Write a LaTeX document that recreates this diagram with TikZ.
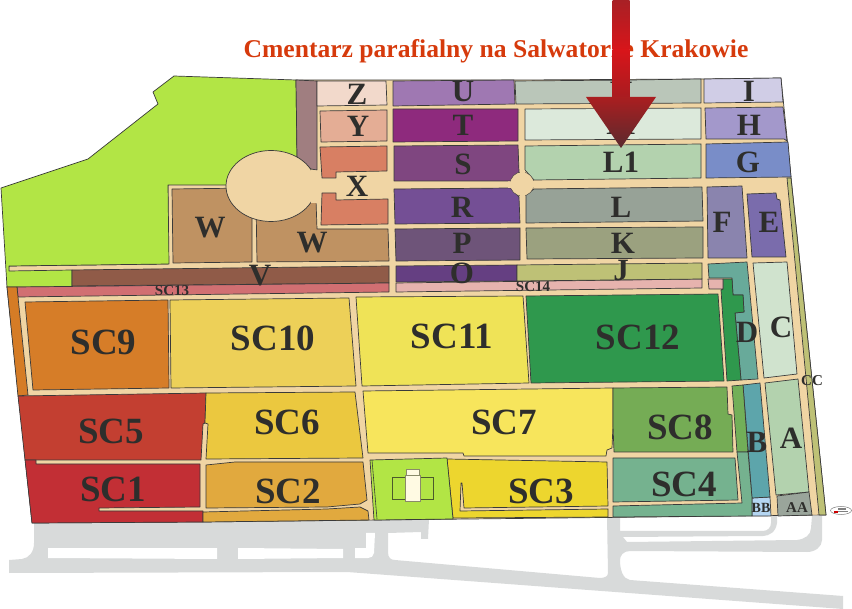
\documentclass[tikz,border=0pt]{standalone}
\usepackage{fontspec}
\setmainfont{Liberation Serif}
\usetikzlibrary{shapes.geometric}
\definecolor{ink}{HTML}{2E2E2C}
\definecolor{edge}{HTML}{3A3A3A}
\definecolor{road}{HTML}{F0D5A4}
\definecolor{asphalt}{HTML}{D8DADA}
\definecolor{grass}{HTML}{B2E545}
\tikzset{
 zone/.style={draw=edge,line width=.7pt,line join=round},
 lblbig/.style={font=\bfseries\fontsize{31}{31}\selectfont,text=ink,inner sep=0pt},
 lblsc/.style={font=\bfseries\fontsize{37}{37}\selectfont,text=ink,inner sep=0pt},
 lblsm/.style={font=\bfseries\fontsize{15}{15}\selectfont,text=ink,inner sep=0pt},
}
\begin{document}
\begin{tikzpicture}[x=1pt,y=-1pt]
\useasboundingbox (0,0) rectangle (852,609);
% grey roads
\fill[asphalt] (34,522) -- (429,519) -- (428,539) -- (421,539) -- (421,532) -- (388,533) -- (388,552)
  .. controls (388,558) and (391,560) .. (395,560) -- (600,578)
  .. controls (605,578) and (608,576) .. (608,573) -- (607,516) -- (620,516) -- (620,531) -- (763,531)
  .. controls (768,531) and (771,527) .. (771,523) -- (771,516) -- (777,516) -- (777,523)
  .. controls (776,532) and (769,536) .. (763,536) -- (623,537) -- (627,542) -- (797,540)
  .. controls (805,539) and (811,535) .. (811,528) -- (812,516) -- (822,516) -- (822,540)
  .. controls (822,547) and (815,552) .. (807,552) -- (630,551)
  .. controls (623,551) and (620,556) .. (620,560) .. controls (620,570) and (623,579) .. (630,580)
  -- (843,596) -- (843,609) -- (347,572) -- (9,573) -- (9,560) -- (22,559)
  .. controls (29,558) and (34,552) .. (34,543) -- cycle;
\fill[white] (48,548) -- (217,548) -- (217,559) -- (48,558) -- cycle;
\fill[white] (238,548) -- (343,549) -- (343,558) -- (238,559) -- cycle;
\fill[white] (366,533) -- (375,533) -- (374,553) .. controls (374,556) and (371,558) .. (368,558) -- (355,558) -- (355,548) -- (366,548) -- cycle;
% site base
\draw[zone,fill=road] (296,80) -- (517,80) -- (701,79) -- (781,78) -- (791,177) -- (826,515) -- (203,522) -- (32,523) -- (7,287) -- (9,266) -- (168,264) -- (168,185) -- (296,157) -- cycle;
% green
\draw[zone,fill=grass] (174,76) -- (153,92) -- (158,104) -- (88,159) -- (1,188) -- (7,287) -- (72,287) -- (72,270) -- (9,271) -- (9,266) -- (169,264) -- (168,185) -- (262,185) -- (297,160) -- (296,80) -- cycle;
% upper left column
\draw[zone,fill={rgb,255:red,160;green,126;blue,128}] (296,80) -- (317,81) -- (317,170) -- (311,169) -- (297,157) -- cycle;
\draw[zone,fill={rgb,255:red,242;green,217;blue,203}] (317,81) -- (386,81) -- (387,105) -- (317,106) -- cycle;
\draw[zone,fill={rgb,255:red,228;green,173;blue,149}] (320,111) -- (387,110) -- (387,141) -- (321,142) -- cycle;
\draw[zone,fill={rgb,255:red,216;green,127;blue,99}] (320,147) -- (387,146) -- (387,171) -- (336,172) -- (336,178) -- (322,178) -- cycle;
\draw[zone,fill={rgb,255:red,216;green,127;blue,99}] (322,193) -- (336,193) -- (336,200) -- (388,199) -- (388,224) -- (321,225) -- cycle;
\draw[zone,fill={rgb,255:red,191;green,146;blue,98}] (172,189) -- (252,188) -- (252,262) -- (173,263) -- cycle;
\draw[zone,fill={rgb,255:red,191;green,146;blue,98}] (256,200) -- (316,200) -- (317,229) -- (388,229) -- (389,261) -- (257,262) -- cycle;
\draw[zone,fill=road] (271,186) ellipse [x radius=45,y radius=35.5];
\fill[road] (311,170) -- (320,171) -- (320,203) -- (311,203) -- cycle;
\draw[zone,fill={rgb,255:red,144;green,91;blue,72}] (72,270) -- (389,266) -- (389,283) -- (72,286) -- cycle;
\draw[zone,fill={rgb,255:red,209;green,111;blue,114}] (17,287) -- (389,283) -- (389,292) -- (18,297) -- cycle;
\draw[zone,fill={rgb,255:red,213;green,124;blue,38}] (7,287) -- (17,287) -- (18,297) -- (28,395) -- (18,396) -- cycle;
% purple column
\draw[zone,fill={rgb,255:red,159;green,120;blue,178}] (393,81) -- (514,80) -- (515,104) -- (393,106) -- cycle;
\draw[zone,fill={rgb,255:red,142;green,42;blue,125}] (393,109) -- (518,109) -- (518,141) -- (393,142) -- cycle;
\draw[zone,fill={rgb,255:red,127;green,70;blue,128}] (394,146) -- (518,145) -- (519,172) -- (511,181) -- (394,181) -- cycle;
\draw[zone,fill={rgb,255:red,116;green,79;blue,149}] (394,189) -- (511,188) -- (519,197) -- (520,223) -- (395,224) -- cycle;
\draw[zone,fill={rgb,255:red,110;green,84;blue,121}] (395,229) -- (520,228) -- (520,260) -- (396,261) -- cycle;
\draw[zone,fill={rgb,255:red,101;green,63;blue,130}] (396,266) -- (517,265) -- (517,281) -- (396,282) -- cycle;
\draw[zone,fill={rgb,255:red,230;green,179;blue,174}] (396,283) -- (702,279) -- (702,288) -- (396,292) -- cycle;
% middle column
\draw[zone,fill={rgb,255:red,186;green,198;blue,185}] (515,81) -- (630,80) -- (701,79) -- (701,103) -- (516,104) -- cycle;
\draw[zone,fill={rgb,255:red,220;green,233;blue,219}] (525,109) -- (701,108) -- (701,139) -- (525,140) -- cycle;
\draw[zone,fill={rgb,255:red,179;green,210;blue,174}] (525,146) -- (701,144) -- (701,178) -- (534,180) -- (525,170) -- cycle;
\draw[zone,fill={rgb,255:red,151;green,162;blue,151}] (526,195) -- (534,189) -- (702,187) -- (703,221) -- (526,223) -- cycle;
\draw[zone,fill={rgb,255:red,155;green,161;blue,127}] (526,228) -- (703,227) -- (703,258) -- (527,259) -- cycle;
\draw[zone,fill={rgb,255:red,190;green,193;blue,118}] (517,265) -- (702,263) -- (702,279) -- (517,281) -- cycle;
\fill[road] (522,184) circle [radius=12];
\draw[edge,line width=.4pt] (522,184) circle [radius=12];
\fill[road] (508,181.5) -- (536,181) -- (536,187.5) -- (508,188) -- cycle;
\fill[road] (519.5,170) -- (525,170) -- (525,198) -- (519.5,198) -- cycle;
% right column
\draw[zone,fill={rgb,255:red,208;green,205;blue,230}] (704,79) -- (781,78) -- (783,102) -- (704,103) -- cycle;
\draw[zone,fill={rgb,255:red,163;green,152;blue,203}] (705,108) -- (783,107) -- (787,141) -- (784,139) -- (706,139) -- cycle;
\draw[zone,fill={rgb,255:red,121;green,141;blue,200}] (706,144) -- (788,142) -- (791,177) -- (706,178) -- cycle;
\draw[zone,fill={rgb,255:red,138;green,132;blue,174}] (707,187) -- (742,186) -- (747,258) -- (708,258) -- cycle;
\draw[zone,fill={rgb,255:red,122;green,108;blue,172}] (747,194) -- (776,193) -- (777,199) -- (780,200) -- (786,257) -- (752,257) -- cycle;
\draw[zone,fill={rgb,255:red,190;green,193;blue,118}] (787,178) -- (791,178) -- (826,515) -- (819,515) -- cycle;
\draw[zone,fill={rgb,255:red,104;green,170;blue,154}] (708,264) -- (747,262) -- (758,379) -- (741,380) -- (735,313) -- (744,312) -- (743,295) -- (733,295) -- (732,278) -- (709,278) -- cycle;
\draw[zone,fill={rgb,255:red,47;green,152;blue,77}] (723,279) -- (732,279) -- (733,295) -- (743,295) -- (744,312) -- (735,313) -- (741,380) -- (727,381) -- (721,290) -- (723,289) -- cycle;
\draw[zone,fill={rgb,255:red,230;green,179;blue,174}] (708,279) -- (723,279) -- (723,289) -- (709,289) -- cycle;
\draw[zone,fill={rgb,255:red,208;green,227;blue,206}] (753,263) -- (787,262) -- (797,374) -- (764,378) -- cycle;
\draw[zone,fill={rgb,255:red,179;green,210;blue,174}] (765,383) -- (798,379) -- (809,492) -- (776,495) -- cycle;
\draw[zone,fill={rgb,255:red,154;green,165;blue,155}] (777,496) -- (809,492) -- (812,515) -- (778,516) -- cycle;
\draw[zone,fill={rgb,255:red,181;green,214;blue,242}] (752,498) -- (770,497) -- (771,516) -- (752,516) -- cycle;
\draw[zone,fill={rgb,255:red,93;green,165;blue,171}] (743,385) -- (760,383) -- (770,497) -- (752,498) -- cycle;
\draw[zone,fill={rgb,255:red,114;green,175;blue,88}] (732,386) -- (743,385) -- (748,452) -- (737,452) -- cycle;
\draw[zone,fill={rgb,255:red,117;green,178;blue,143}] (613,506) -- (742,503) -- (737,452) -- (748,452) -- (752,498) -- (752,516) -- (613,517) -- cycle;
% SC zones
\draw[zone,fill={rgb,255:red,214;green,125;blue,40}] (25,302) -- (168,300) -- (169,388) -- (33,390) -- cycle;
\draw[zone,fill={rgb,255:red,237;green,208;blue,88}] (170,300) -- (349,298) -- (356,386) -- (171,388) -- cycle;
\draw[zone,fill={rgb,255:red,239;green,227;blue,87}] (356,297) -- (523,296) -- (529,383) -- (362,386) -- cycle;
\draw[zone,fill={rgb,255:red,47;green,152;blue,77}] (526,296) -- (718,294) -- (724,381) -- (531,383) -- cycle;
\draw[zone,fill={rgb,255:red,195;green,63;blue,49}] (18,396) -- (206,393) -- (205,423) -- (203,424) -- (201,460) -- (25,460) -- cycle;
\draw[zone,fill={rgb,255:red,194;green,47;blue,53}] (25,460) -- (36,460) -- (36,464) -- (200,464) -- (200,507) -- (99,508) -- (99,511) -- (203,511) -- (203,522) -- (32,523) -- cycle;
\draw[zone,fill={rgb,255:red,235;green,200;blue,63}] (206,393) -- (355,392) -- (363,458) -- (206,459) -- (208,424) -- (205,423) -- cycle;
\draw[zone,fill={rgb,255:red,225;green,169;blue,62}] (206,465) -- (235,462) -- (363,462) -- (367,500) -- (360,504) -- (327,507) -- (206,508) -- cycle;
\draw[zone,fill={rgb,255:red,225;green,169;blue,62}] (203,512) -- (327,509) -- (360,507) -- (368,511) -- (369,520) -- (203,522) -- cycle;
\draw[zone,fill={rgb,255:red,247;green,229;blue,92}] (363,391) -- (613,388) -- (613,425) -- (612,448) -- (607,450) -- (606,456) -- (464,456) -- (463,453) -- (368,453) -- cycle;
\draw[zone,fill={rgb,255:red,117;green,172;blue,85}] (613,388) -- (727,387) -- (728,414) -- (732,415) -- (733,452) -- (614,452) -- (613,425) -- cycle;
\draw[zone,fill={rgb,255:red,117;green,178;blue,143}] (613,458) -- (735,458) -- (738,500) -- (613,502) -- cycle;
\draw[zone,fill={rgb,255:red,237;green,214;blue,46}] (447,459) -- (607,462) -- (608,506) -- (464,508) -- (462,483) -- (461,483) -- (460,511) -- (608,509) -- (608,517) -- (453,518) -- cycle;
% church plot
\draw[zone,fill=grass] (370,460) -- (447,458) -- (453,519) -- (374,520) -- cycle;
\draw[edge,line width=.6pt] (372,460) -- (377,519);
\draw[line width=.7pt,draw={rgb,255:red,75;green,90;blue,44}] (392,477) rectangle (405,499);
\draw[line width=.7pt,draw={rgb,255:red,75;green,90;blue,44}] (420,477) rectangle (433,499);
\draw[line width=.8pt,draw={rgb,255:red,138;green,138;blue,106},fill={rgb,255:red,255;green,250;blue,227}] (405,475) rectangle (420,501);
\draw[line width=.8pt,draw={rgb,255:red,138;green,138;blue,106},fill={rgb,255:red,255;green,250;blue,227}] (406,469) rectangle (419,475);
% logo
\draw[line width=.5pt,draw=gray,fill=white] (841,510.5) ellipse [x radius=10.5,y radius=4];
\fill[gray] (838,508.5) rectangle (846,510);
\fill[gray] (838,511) rectangle (848,512.5);
\fill[red!80!black] (834,511) rectangle (838,513);
% labels
\node[lblbig] (lZ) at (357,94) {Z};
\node[lblbig] (lY) at (358,126) {Y};
\node[lblbig] (lX) at (357,186) {X};
\node[lblbig] (lW1) at (210,228) {W};
\node[lblbig] (lW2) at (312,243) {W};
\node[lblbig] (lV) at (260,276) {V};
\node[lblbig] (lU) at (463,91) {U};
\node[lblbig] (lT) at (463,125) {T};
\node[lblbig] (lS) at (463,164) {S};
\node[lblbig] (lR) at (462,207) {R};
\node[lblbig] (lP) at (462,243) {P};
\node[lblbig] (lO) at (462,273) {O};
\node[lblbig] (lJ) at (621,271) {J};
\node[lblbig] (lK) at (623,243) {K};
\node[lblbig] (lL) at (621,207) {L};
\node[lblbig] (lLa) at (621,162) {L1};
\node[lblbig] (lM) at (621,124) {M};
\node[lblbig] (lN) at (621,92) {N};
\node[lblbig] (lI) at (749,91) {I};
\node[lblbig] (lH) at (749,125) {H};
\node[lblbig] (lG) at (748,162) {G};
\node[lblbig] (lF) at (722,222) {F};
\node[lblbig] (lE) at (769,222) {E};
\node[lblbig] (lD) at (747,332) {D};
\node[lblbig] (lC) at (781,327) {C};
\node[lblbig] (lB) at (757,442) {B};
\node[lblbig] (lA) at (791,438) {A};
\node[lblsm] (lCC) at (812,381) {CC};
\node[lblsm,font=\bfseries\fontsize{14}{14}\selectfont] (lBB) at (761,508) {BB};
\node[lblsm] (lAA) at (797,508) {AA};
\node[lblsm] (lSCm) at (172,291) {SC13};
\node[lblsm] (lSCn) at (533,287) {SC14};
\node[lblsc] (lSCi) at (103.5,342) {SC9};
\node[lblsc] (lSCj) at (273,338) {SC10};
\node[lblsc] (lSCk) at (452,336) {SC11};
\node[lblsc] (lSCl) at (638,337) {SC12};
\node[lblsc] (lSCe) at (111,431) {SC5};
\node[lblsc] (lSCf) at (287,422) {SC6};
\node[lblsc] (lSCg) at (504,422) {SC7};
\node[lblsc] (lSCh) at (680,427) {SC8};
\node[lblsc] (lSCa) at (113,489) {SC1};
\node[lblsc] (lSCb) at (288,491) {SC2};
\node[lblsc] (lSCc) at (541,491) {SC3};
\node[lblsc] (lSCd) at (684,484) {SC4};
% title and arrow
\node[font=\bfseries\fontsize{25.6}{26}\selectfont,text={rgb,255:red,214;green,58;blue,12},inner sep=0pt] (title) at (496,51) {Cmentarz parafialny na Salwatorze Krakowie};
\shade[top color={rgb,255:red,168;green,32;blue,37},bottom color={rgb,255:red,216;green,21;blue,26}] (612.7,0) rectangle (629.5,50);
\shade[top color={rgb,255:red,216;green,21;blue,26},bottom color={rgb,255:red,168;green,28;blue,32}] (612.7,49.8) rectangle (629.5,98);
\shade[top color={rgb,255:red,170;green,30;blue,32},bottom color={rgb,255:red,90;green,42;blue,46}] (586,97) -- (656,97) -- (621,148) -- cycle;
\end{tikzpicture}
\end{document}
